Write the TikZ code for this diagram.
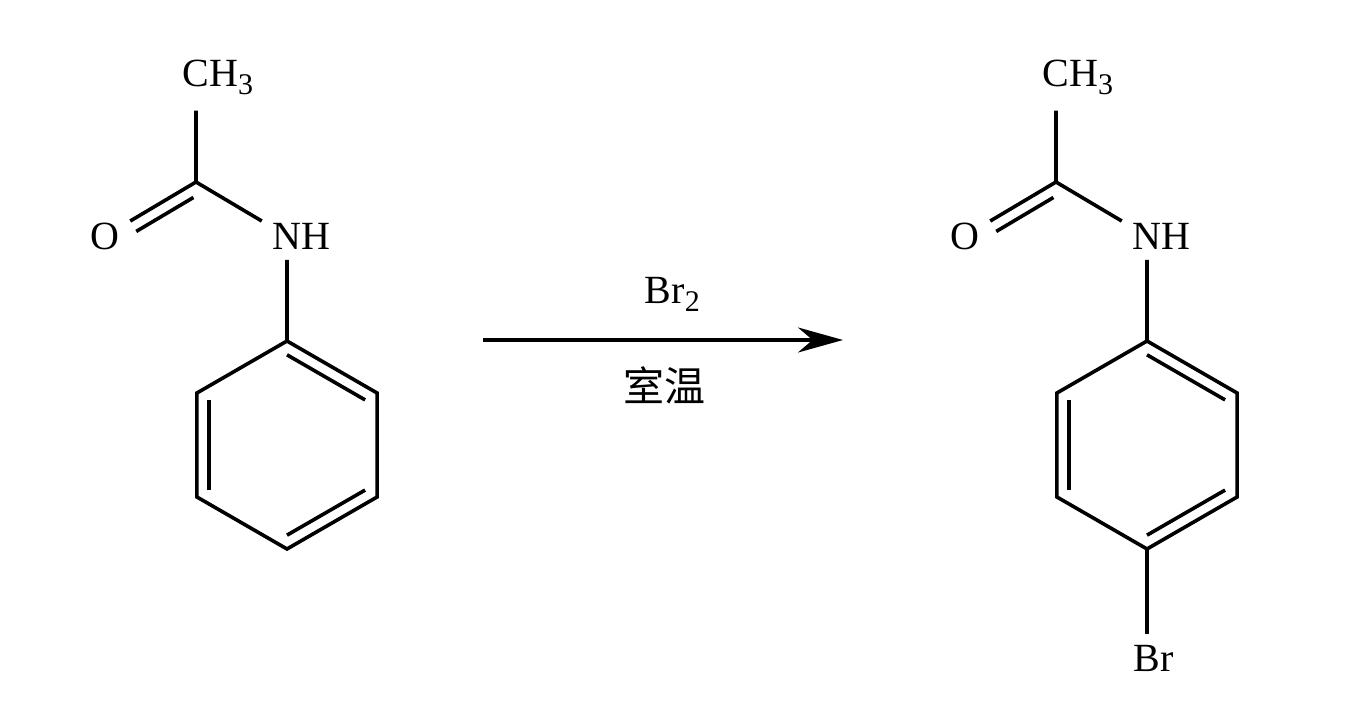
\documentclass[tikz,border=0pt]{standalone}
\usepackage{fontspec}
\setmainfont{Liberation Serif}
\newfontfamily\cjk{Noto Sans CJK SC}
\usetikzlibrary{arrows.meta, calc}
\newcommand{\chemsub}[1]{\raisebox{-4pt}{\fontsize{15}{18}\selectfont #1}}

\begin{document}
\begin{tikzpicture}[x=0.5pt, y=0.5pt, line width=1.8pt,
  atom/.style = {inner sep=4.5pt, font=\fontsize{20}{24}\selectfont}]
\useasboundingbox (0,0) rectangle (1356,718);
% acetanilide
\node[atom] (o1) at (105,482) {O};
\node[atom] (n1) at (287,482) {N\rlap{H}};
\node[atom, inner ysep=7pt] (m1) at (196,640.5) {C\rlap{H\chemsub{3}}};
\coordinate (c1) at (196,536);
\coordinate (z1) at (287,273);
\foreach \i/\a in {1/90, 2/30, 3/-30, 4/-90, 5/-150, 6/150}
  \coordinate (r1\i) at ($(z1)+(\a:104)$);
\draw (m1) -- (c1) -- (n1) -- (r11);
\draw (c1) -- (o1);
\draw[transform canvas={shift={(6,-10.4)}}, shorten <=5pt] (c1) -- (o1);
\draw (r11) -- (r12) -- (r13) -- (r14) -- (r15) -- (r16) -- cycle;
\foreach \p/\q in {1/2, 3/4, 5/6}
  \draw ($(z1)!.867!(r1\p)$) -- ($(z1)!.867!(r1\q)$);

% arrow
\coordinate (a1) at (483,378);
\coordinate (a2) at (843,378);
\draw[-{Stealth[length=22.5pt, width=12.5pt]}] (a1) -- (a2);
\node[anchor=base west, inner sep=0pt, font=\fontsize{20}{24}\selectfont] (rg) at (643,414) {Br\chemsub{2}};
\node[inner sep=0pt, font=\cjk\fontsize{20.5}{24}\selectfont] (rt) at (664,333) {室温};

% 4-bromoacetanilide
\node[atom] (o2) at (965,482) {O};
\node[atom] (n2) at (1147,482) {N\rlap{H}};
\node[atom, inner ysep=7pt] (m2) at (1056,640.5) {C\rlap{H\chemsub{3}}};
\node[atom] (br) at (1147,60) {B\rlap{r}};
\coordinate (c2) at (1056,536);
\coordinate (z2) at (1147,273);
\foreach \i/\a in {1/90, 2/30, 3/-30, 4/-90, 5/-150, 6/150}
  \coordinate (r2\i) at ($(z2)+(\a:104)$);
\draw (m2) -- (c2) -- (n2) -- (r21);
\draw (c2) -- (o2);
\draw[transform canvas={shift={(6,-10.4)}}, shorten <=5pt] (c2) -- (o2);
\draw (r21) -- (r22) -- (r23) -- (r24) -- (r25) -- (r26) -- cycle;
\foreach \p/\q in {1/2, 3/4, 5/6}
  \draw ($(z2)!.867!(r2\p)$) -- ($(z2)!.867!(r2\q)$);
\draw (r24) -- (br);
\end{tikzpicture}
\end{document}
